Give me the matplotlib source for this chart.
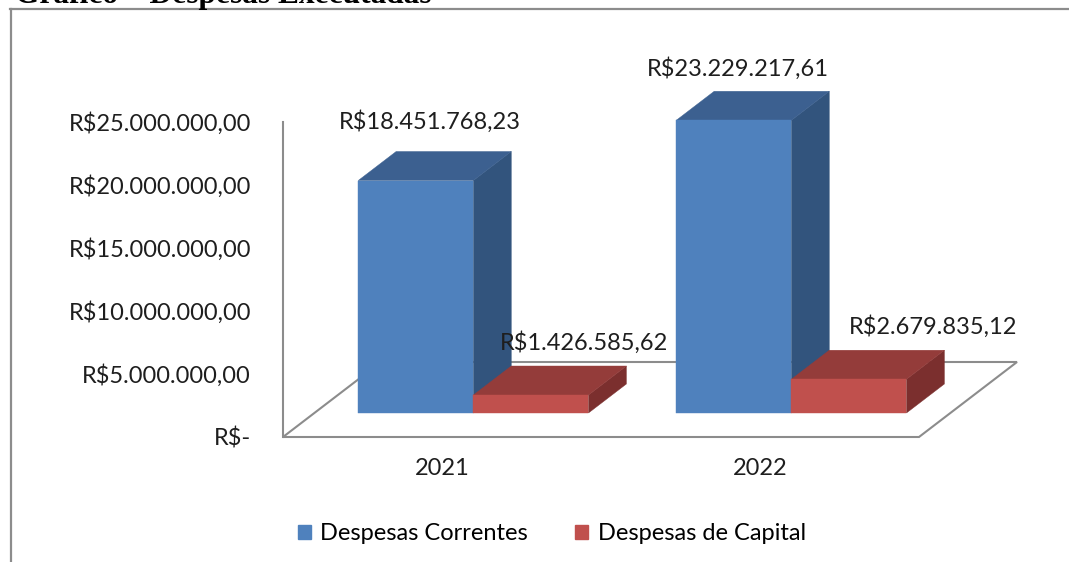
import matplotlib
matplotlib.use("Agg")
import matplotlib.pyplot as plt
from matplotlib.patches import Polygon, Patch
from matplotlib.lines import Line2D

# ---------------- data ----------------
categories = ["2021", "2022"]
series_names = ["Despesas Correntes", "Despesas de Capital"]
correntes = [18451768.23, 23229217.61]
capital = [1426585.62, 2679835.12]
label_texts_correntes = ["R$18.451.768,23", "R$23.229.217,61"]
label_texts_capital = ["R$1.426.585,62", "R$2.679.835,12"]
yticks = [0, 5e6, 10e6, 15e6, 20e6, 25e6]
ytick_labels = ["R$-", "R$5.000.000,00", "R$10.000.000,00", "R$15.000.000,00",
                "R$20.000.000,00", "R$25.000.000,00"]
title = "Gráfico – Despesas Executadas"

# ---------------- style ----------------
W, H = 1069, 562
FONT = "Lato"
FS = 17
TXT = "#1e1e1e"
face = {"Despesas Correntes": ("#4F81BD", "#3C6090", "#32547D"),
        "Despesas de Capital": ("#C0504D", "#943C3A", "#7B2F2E")}
gray = "#8C8C8C"
# oblique depth projection (data units per full depth)
DX = 98 / 318
DY = 75 / 12.6e-6
D0, D1 = 0.32, 0.707
BAR_W = 0.362
# label offsets in pixels (dx, dy up) from the bar-top centre
lab_off_corr = [(-5, 44), (-15, 37)]
lab_off_cap = [(34, 38), (65, 38)]

fig = plt.figure(figsize=(W / 100, H / 100), dpi=100)
ax = fig.add_axes([283 / W, 125 / H, 636 / W, 315 / H])
ax.set_xlim(0, 2)
ax.set_ylim(0, 25e6)
for s in ["top", "right", "bottom"]:
    ax.spines[s].set_visible(False)
ax.spines["left"].set_color(gray)
ax.spines["left"].set_linewidth(1.5)
ax.spines["left"].set_zorder(0.5)
ax.set_yticks(yticks)
ax.set_yticklabels(ytick_labels, fontfamily=FONT, fontsize=FS, color=TXT)
ax.set_xticks([0.5, 1.5])
ax.set_xticklabels(categories, fontfamily=FONT, fontsize=FS, color=TXT)
ax.tick_params(axis="y", length=0, pad=23)
ax.tick_params(axis="x", length=0, pad=15)
ax.patch.set_visible(False)


def P(x, v, d):
    return (x + d * DX, v + d * DY)


# floor
floor = Polygon([P(0, 0, 0), P(2, 0, 0), P(2, 0, 1), P(0, 0, 1)], closed=True,
                facecolor="white", edgecolor=gray, linewidth=1.5, clip_on=False, zorder=1)
ax.add_patch(floor)


def bar3d(x0, x1, v, cols, z):
    fc, tc, sc = cols
    front = [P(x0, 0, D0), P(x1, 0, D0), P(x1, v, D0), P(x0, v, D0)]
    top = [P(x0, v, D0), P(x1, v, D0), P(x1, v, D1), P(x0, v, D1)]
    side = [P(x1, 0, D0), P(x1, v, D0), P(x1, v, D1), P(x1, 0, D1)]
    for pts, c in ((side, sc), (top, tc), (front, fc)):
        ax.add_patch(Polygon(pts, closed=True, facecolor=c, edgecolor=c,
                             linewidth=0.3, clip_on=False, zorder=z))


z = 2
for i, cat in enumerate(categories):
    c = i + 0.5
    bar3d(c - BAR_W, c, correntes[i], face[series_names[0]], z)
    z += 1
    bar3d(c, c + BAR_W, capital[i], face[series_names[1]], z)
    z += 1

dmid = (D0 + D1) / 2
for i in range(len(categories)):
    c = i + 0.5
    for xc, v, txt, off in ((c - BAR_W / 2, correntes[i], label_texts_correntes[i], lab_off_corr[i]),
                            (c + BAR_W / 2, capital[i], label_texts_capital[i], lab_off_cap[i])):
        ax.annotate(txt, xy=P(xc, v, dmid), xytext=(off[0] * 0.72, off[1] * 0.72),
                    textcoords="offset points", ha="center", va="center",
                    fontfamily=FONT, fontsize=FS, color=TXT,
                    annotation_clip=False, zorder=20)

handles = [Patch(facecolor=face[n][0], edgecolor=face[n][0]) for n in series_names]
fig.legend(handles, series_names, loc="center", bbox_to_anchor=(552 / W, 1 - 534 / H),
           ncol=2, frameon=False, prop={"family": FONT, "size": FS},
           handlelength=0.55, handleheight=0.55, handletextpad=0.4, columnspacing=2.0)

# outer border (top and left)
fig.add_artist(Line2D([10 / W, 1], [1 - 9 / H, 1 - 9 / H], transform=fig.transFigure,
                      color=gray, linewidth=1.6))
fig.add_artist(Line2D([10.5 / W, 10.5 / W], [0, 1 - 9 / H], transform=fig.transFigure,
                      color=gray, linewidth=1.6))

# title (cut off at the top edge, as in the reference)
fig.text(15 / W, 1 - 3 / H, title, ha="left", va="baseline",
         fontfamily="Liberation Serif", fontweight="bold", fontsize=22.6, color="black")

fig.savefig("out.png", dpi=100)
